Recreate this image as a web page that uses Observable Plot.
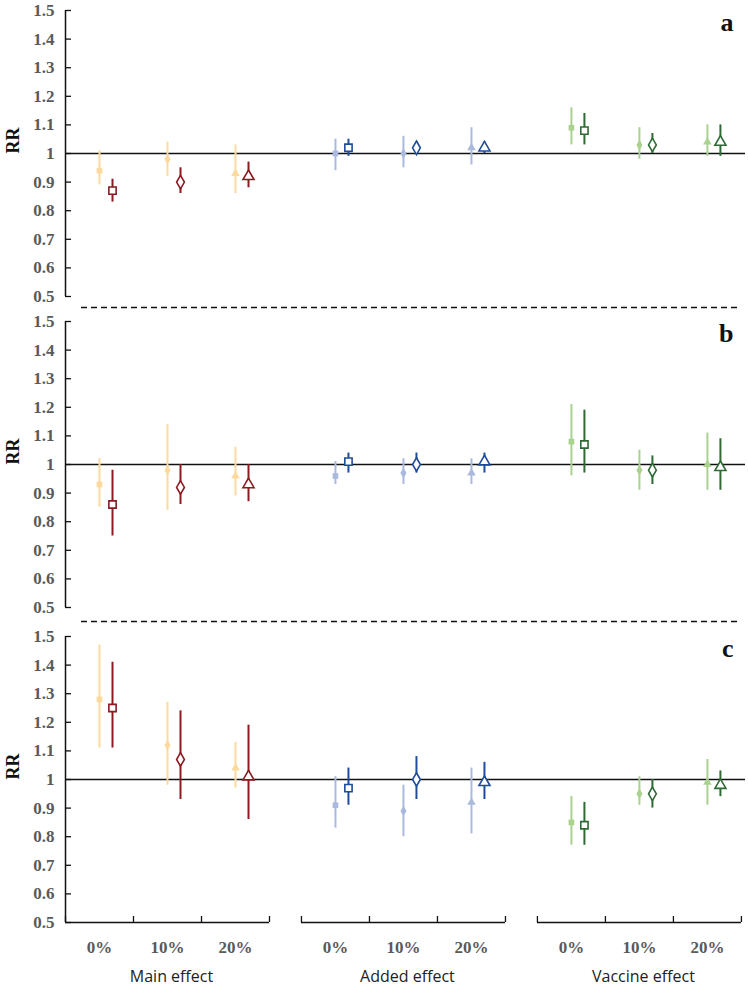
<!DOCTYPE html>
<html>
<head>
<meta charset="utf-8">
<script src="https://cdn.jsdelivr.net/npm/d3@7"></script>
<script src="https://cdn.jsdelivr.net/npm/@observablehq/plot@0.6"></script>
<style>
  html, body { margin: 0; padding: 0; background: #fff; }
  #chart { position: relative; width: 748px; height: 986px; }
  #chart svg { position: absolute; left: 0; overflow: visible; }
</style>
</head>
<body>
<div id="chart"></div>
<script>
// ---------- data ----------
const groups = ["Main effect", "Added effect", "Vaccine effect"];
const levels = ["0%", "10%", "20%"];
const panelLetters = ["a", "b", "c"];
const yTicks = [0.5, 0.6, 0.7, 0.8, 0.9, 1.0, 1.1, 1.2, 1.3, 1.4, 1.5];
const lightColors = ["#fcd99c", "#aab9de", "#a9d28f"];
const darkColors = ["#8c1a22", "#1f4c98", "#2e6b34"];

// order: Main 0/10/20, Added 0/10/20, Vaccine 0/10/20
const aLightRR = [0.94, 0.98, 0.93, 1.00, 1.00, 1.02, 1.09, 1.03, 1.04];
const aLightLo = [0.89, 0.92, 0.86, 0.94, 0.95, 0.96, 1.03, 0.98, 0.99];
const aLightHi = [1.01, 1.04, 1.03, 1.05, 1.06, 1.09, 1.16, 1.09, 1.10];
const aDarkRR  = [0.87, 0.90, 0.92, 1.02, 1.02, 1.02, 1.08, 1.03, 1.04];
const aDarkLo  = [0.83, 0.86, 0.88, 0.99, 1.00, 1.00, 1.03, 1.00, 0.99];
const aDarkHi  = [0.91, 0.95, 0.97, 1.05, 1.04, 1.04, 1.14, 1.07, 1.10];

const bLightRR = [0.93, 0.98, 0.96, 0.96, 0.97, 0.97, 1.08, 0.98, 1.00];
const bLightLo = [0.85, 0.84, 0.89, 0.93, 0.93, 0.93, 0.96, 0.91, 0.91];
const bLightHi = [1.02, 1.14, 1.06, 1.01, 1.02, 1.02, 1.21, 1.05, 1.11];
const bDarkRR  = [0.86, 0.92, 0.93, 1.01, 1.00, 1.01, 1.07, 0.98, 0.99];
const bDarkLo  = [0.75, 0.86, 0.87, 0.97, 0.97, 0.97, 0.97, 0.93, 0.91];
const bDarkHi  = [0.98, 1.00, 1.00, 1.04, 1.04, 1.04, 1.19, 1.03, 1.09];

const cLightRR = [1.28, 1.12, 1.04, 0.91, 0.89, 0.92, 0.85, 0.95, 0.99];
const cLightLo = [1.11, 0.98, 0.97, 0.83, 0.80, 0.81, 0.77, 0.91, 0.91];
const cLightHi = [1.47, 1.27, 1.13, 1.01, 0.98, 1.04, 0.94, 1.01, 1.07];
const cDarkRR  = [1.25, 1.07, 1.01, 0.97, 1.00, 0.99, 0.84, 0.95, 0.98];
const cDarkLo  = [1.11, 0.93, 0.86, 0.91, 0.93, 0.93, 0.77, 0.90, 0.94];
const cDarkHi  = [1.41, 1.24, 1.19, 1.04, 1.08, 1.06, 0.92, 1.00, 1.03];

// ---------- layout helpers ----------
const GAP = 0.47;           // gap between groups, in slot units
const W = 748, ML = 65, MR = 3;
const serif = "Liberation Serif";
const sans = "Open Sans";

function slotPos(k) { const g = Math.floor(k / 3), i = k % 3; return g * (3 + GAP) + i + 0.5; }
function rows(rr, lo, hi, colors) {
  return rr.map((v, k) => ({
    pos: slotPos(k), rr: v, lo: lo[k], hi: hi[k],
    level: levels[k % 3], group: groups[Math.floor(k / 3)],
    color: colors[Math.floor(k / 3)]
  }));
}
const slots = d3.range(9).map(k => ({pos: slotPos(k), level: levels[k % 3]}));
const groupSpans = groups.map((name, g) => ({name, start: g * (3 + GAP), end: g * (3 + GAP) + 3, center: g * (3 + GAP) + 1.5}));
const boundaries = groupSpans.flatMap(s => [0, 1, 2, 3].map(j => s.start + j));

const panelDefs = [
  {letter: "a", top: 0,   height: 310, mt: 10, mb: 14, sep: 11,
   light: rows(aLightRR, aLightLo, aLightHi, lightColors), dark: rows(aDarkRR, aDarkLo, aDarkHi, darkColors)},
  {letter: "b", top: 310, height: 312, mt: 11, mb: 15, sep: 14,
   light: rows(bLightRR, bLightLo, bLightHi, lightColors), dark: rows(bDarkRR, bDarkLo, bDarkHi, darkColors)},
  {letter: "c", top: 622, height: 364, mt: 14, mb: 64, sep: null,
   light: rows(cLightRR, cLightLo, cLightHi, lightColors), dark: rows(cDarkRR, cDarkLo, cDarkHi, darkColors)}
];

const chart = document.getElementById("chart");
const DX = 13;

for (const p of panelDefs) {
  const plotH = p.height - p.mt - p.mb;
  const marks = [
    // y axis line
    Plot.ruleX([0], {stroke: "#111", strokeWidth: 1.5}),
    // inward ticks
    Plot.ruleY(yTicks, {stroke: "#111", strokeWidth: 1.3, insetRight: W - ML - MR - 6}),
    // tick labels
    Plot.text(yTicks, {y: d => d, frameAnchor: "left", dx: -11, textAnchor: "end",
      text: d => d === 1 ? "1" : d.toFixed(1), fontFamily: serif, fontWeight: "bold",
      fontSize: 17, fill: "#5a5a5a"}),
    // RR label
    Plot.text(["RR"], {y: () => 1, frameAnchor: "left", dx: -52, rotate: -90,
      text: d => d, fontFamily: serif, fontWeight: "bold", fontSize: 18, fill: "#111"}),
    // panel letter
    Plot.text([p.letter], {frameAnchor: "top-right", dx: -12, dy: 12, textAnchor: "end",
      lineAnchor: "middle", text: d => d, fontFamily: serif, fontWeight: "bold", fontSize: 26, fill: "#111"}),
    // reference line RR = 1
    Plot.ruleY([1], {stroke: "#111", strokeWidth: 1.5}),
    // light series
    Plot.ruleX(p.light, {x: "pos", y1: "lo", y2: "hi", stroke: "color", strokeWidth: 2}),
    Plot.dot(p.light, {x: "pos", y: "rr", symbol: "level", fill: "color", r: 3.2}),
    // dark series
    Plot.ruleX(p.dark, {x: "pos", y1: "lo", y2: "hi", stroke: "color", strokeWidth: 2, dx: DX}),
    Plot.dot(p.dark, {x: "pos", y: "rr", symbol: "level", stroke: "color", fill: "white",
      r: 4.1, strokeWidth: 1.6, dx: DX})
  ];
  if (p.sep !== null) {
    marks.push(Plot.ruleY([0.5], {dy: p.sep, stroke: "#111", strokeWidth: 1.5,
      strokeDasharray: "6,4", insetLeft: 16, insetRight: 5}));
  } else {
    marks.push(
      Plot.ruleY(groupSpans, {y: () => 0.5, x1: "start", x2: "end", stroke: "#111", strokeWidth: 1.5}),
      Plot.ruleX(boundaries, {x: d => d, insetTop: plotH - 6, stroke: "#111", strokeWidth: 1.3}),
      Plot.text(slots, {x: "pos", text: "level", frameAnchor: "bottom", dy: 25, lineAnchor: "middle",
        fontFamily: serif, fontWeight: "bold", fontSize: 17, fill: "#5a5a5a"}),
      Plot.text(groupSpans, {x: "center", text: "name", frameAnchor: "bottom", dy: 54, dx: 4,
        lineAnchor: "middle", fontFamily: sans, fontSize: 16, fill: "#222"})
    );
  }
  const svg = Plot.plot({
    width: W, height: p.height,
    marginTop: p.mt, marginBottom: p.mb, marginLeft: ML, marginRight: MR,
    x: {domain: [0, 10], axis: null},
    y: {domain: [0.5, 1.5], axis: null},
    color: {type: "identity"},
    symbol: {domain: levels, range: ["square", "diamond", "triangle"]},
    style: {background: "transparent", overflow: "visible"},
    marks
  });
  svg.style.top = p.top + "px";
  chart.appendChild(svg);
}
</script>
</body>
</html>
